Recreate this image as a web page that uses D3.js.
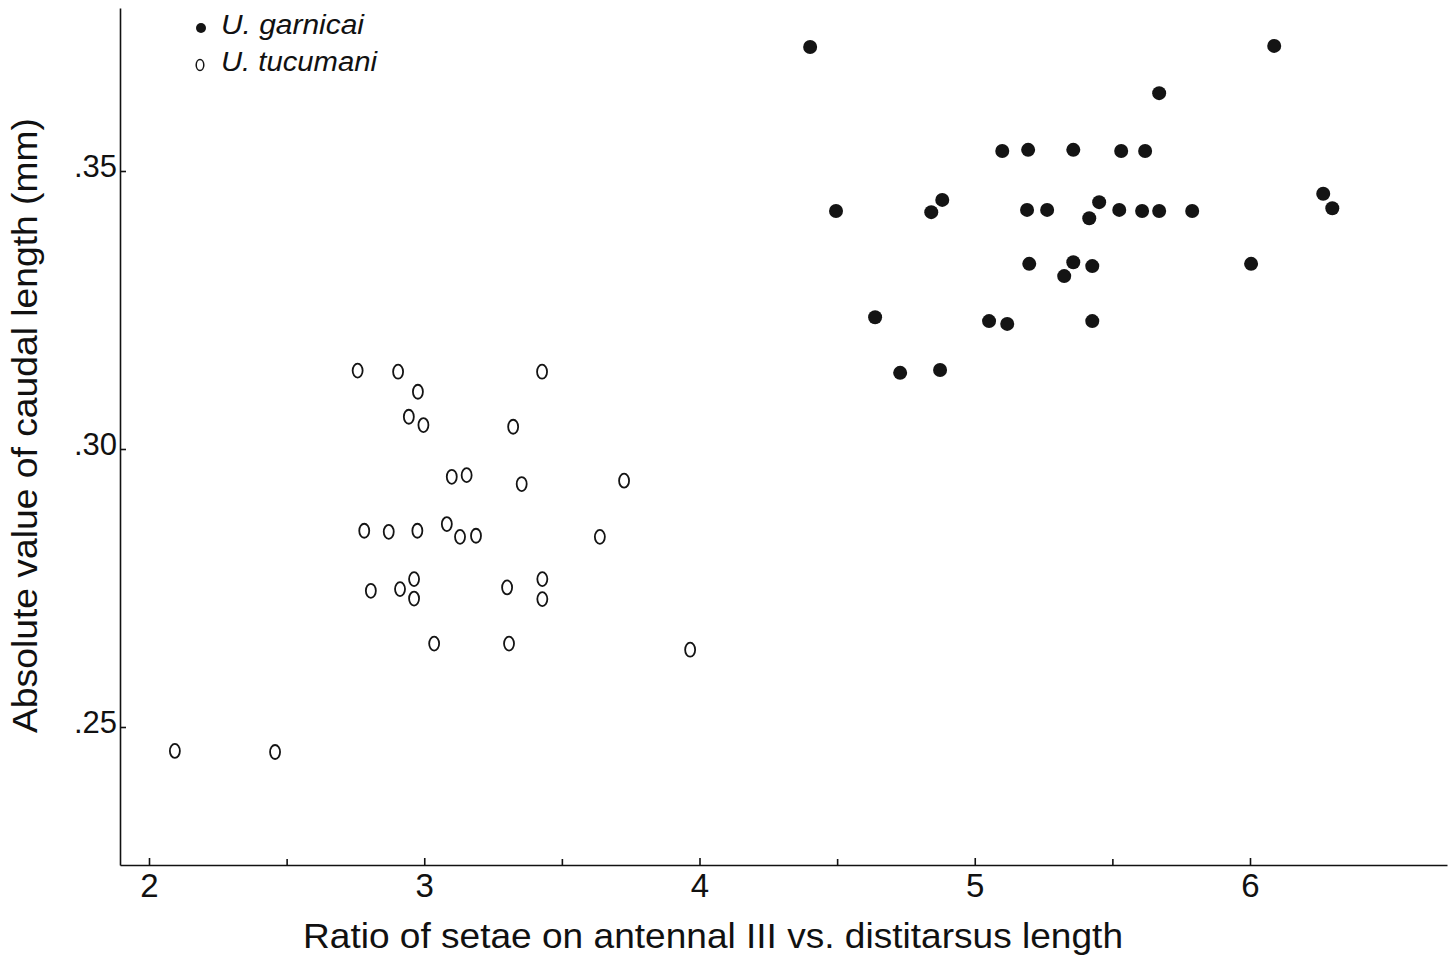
<!DOCTYPE html>
<html>
<head>
<meta charset="utf-8">
<script src="https://cdn.jsdelivr.net/npm/d3@7"></script>
<style>
  body { margin: 0; background: #fff; }
  text { font-family: "Liberation Sans", Arial, sans-serif; fill: #111; }
</style>
</head>
<body>
<div id="chart"></div>
<script>
// U. garnicai (filled)
const garnicai = [
  [4.402, .3723], [6.088, .3725], [5.670, .3640],
  [5.100, .3536], [5.194, .3538], [5.358, .3538], [5.532, .3536], [5.619, .3536],
  [4.496, .3428], [4.882, .3448], [4.842, .3426], [5.190, .3430], [5.263, .3430],
  [5.452, .3444], [5.416, .3415], [5.525, .3430], [5.608, .3428], [5.670, .3428],
  [5.790, .3428], [6.266, .3459], [6.299, .3433],
  [5.198, .3333], [5.358, .3336], [5.427, .3329], [5.325, .3311], [6.004, .3333],
  [4.638, .3237], [5.052, .3230], [5.118, .3225], [5.427, .3230],
  [4.729, .3137], [4.874, .3142]
];

// U. tucumani (open)
const tucumani = [
  [2.758, .3141], [2.905, .3139], [2.977, .3103], [2.944, .3058], [2.997, .3043],
  [3.428, .3139], [3.323, .3040],
  [3.100, .2950], [3.154, .2953], [3.354, .2937], [3.726, .2943],
  [2.782, .2853], [2.871, .2851], [2.975, .2853], [3.082, .2865], [3.130, .2842],
  [3.188, .2844], [3.638, .2842],
  [2.806, .2745], [2.912, .2748], [2.963, .2766], [2.963, .2731], [3.301, .2751],
  [3.429, .2766], [3.429, .2730],
  [3.036, .2650], [3.308, .2650], [3.966, .2639],
  [2.094, .2457], [2.458, .2455]
];

const xTicks = [2, 3, 4, 5, 6];
const xMinor = [2.5, 3.5, 4.5, 5.5];
const yTicks = [.25, .30, .35];
const legendItems = ["U. garnicai", "U. tucumani"];
const legendWidths = [143, 156];

const W = 1451, H = 958;
const m = { left: 120, right: 1447, top: 8, bottom: 865 };

const svg = d3.select("#chart").append("svg")
  .attr("width", W).attr("height", H);

// scales anchored on tick positions, then stretched to the frame
const x0 = d3.scaleLinear().domain([2, 6]).range([149, 1250]);
const x = d3.scaleLinear().domain([x0.invert(m.left), x0.invert(m.right)]).range([m.left, m.right]);
const y0 = d3.scaleLinear().domain([.25, .35]).range([727, 171]);
const y = d3.scaleLinear().domain([y0.invert(m.bottom), y0.invert(m.top)]).range([m.bottom, m.top]);

// x axis
const xAxis = svg.append("g").attr("transform", `translate(0,${m.bottom})`)
  .call(d3.axisBottom(x).tickValues(xTicks).tickSizeInner(-7).tickSizeOuter(0)
    .tickFormat(d3.format("d")));
svg.append("g").attr("transform", `translate(0,${m.bottom})`)
  .call(d3.axisBottom(x).tickValues(xMinor).tickSizeInner(-6).tickSizeOuter(0).tickFormat(""))
  .select(".domain").remove();

// y axis
const yAxis = svg.append("g").attr("transform", `translate(${m.left},0)`)
  .call(d3.axisLeft(y).tickValues(yTicks).tickSizeInner(-6).tickSizeOuter(0).tickPadding(3)
    .tickFormat(d => d3.format(".2f")(d).replace(/^0/, "")));

svg.selectAll(".domain, .tick line").attr("stroke", "#111").attr("stroke-width", 1.6);
xAxis.selectAll(".tick text").attr("font-size", 33).attr("y", 32).attr("dy", 0);
yAxis.selectAll(".tick text").attr("font-size", 31).attr("y", 5).attr("dy", 0);
svg.selectAll(".tick text").attr("fill", "#111").attr("font-family", "Liberation Sans, Arial, sans-serif");

// axis titles
svg.append("text")
  .attr("x", 303).attr("y", 948)
  .attr("font-size", 35)
  .attr("textLength", 820).attr("lengthAdjust", "spacingAndGlyphs")
  .text("Ratio of setae on antennal III vs. distitarsus length");

svg.append("text")
  .attr("transform", "translate(37,733) rotate(-90)")
  .attr("font-size", 34.5)
  .attr("textLength", 615).attr("lengthAdjust", "spacingAndGlyphs")
  .text("Absolute value of caudal length (mm)");

// points
svg.append("g").selectAll("circle")
  .data(garnicai).join("circle")
  .attr("cx", d => x(d[0])).attr("cy", d => y(d[1]))
  .attr("r", 7).attr("fill", "#141414");

svg.append("g").selectAll("ellipse")
  .data(tucumani).join("ellipse")
  .attr("cx", d => x(d[0])).attr("cy", d => y(d[1]))
  .attr("rx", 5).attr("ry", 7)
  .attr("fill", "none").attr("stroke", "#141414").attr("stroke-width", 1.8);

// legend
const lg = svg.append("g");
lg.append("circle").attr("cx", 201).attr("cy", 28).attr("r", 5).attr("fill", "#141414");
lg.append("ellipse").attr("cx", 200).attr("cy", 65).attr("rx", 3.8).attr("ry", 5.5)
  .attr("fill", "none").attr("stroke", "#141414").attr("stroke-width", 1.5);
lg.selectAll("text.leg").data(legendItems).join("text")
  .attr("class", "leg")
  .attr("x", 221).attr("y", (d, i) => 33.5 + i * 37)
  .attr("font-size", 27).attr("font-style", "italic")
  .attr("textLength", (d, i) => legendWidths[i]).attr("lengthAdjust", "spacingAndGlyphs")
  .text(d => d);
</script>
</body>
</html>
